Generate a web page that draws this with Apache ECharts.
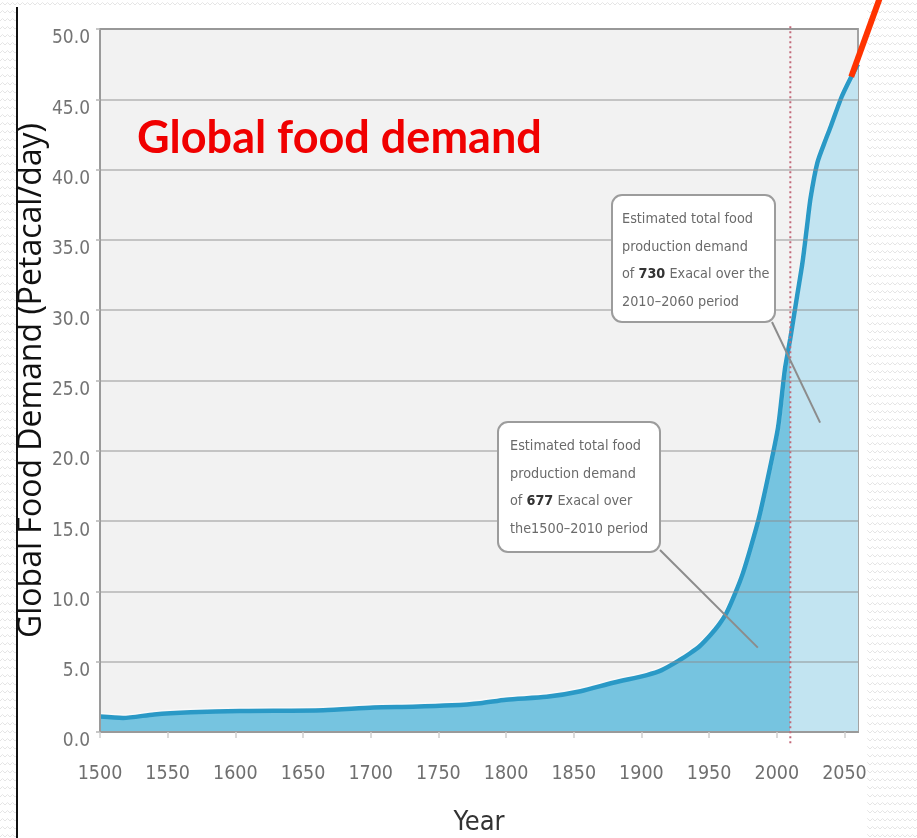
<!DOCTYPE html>
<html>
<head>
<meta charset="utf-8">
<script src="https://cdn.jsdelivr.net/npm/echarts@6/dist/echarts.min.js"></script>
<style>
  html, body { margin: 0; padding: 0; }
  body { width: 917px; height: 838px; overflow: hidden; position: relative; background-color: #fff; }
  #sheet { position: absolute; left: 16px; top: 7px; width: 851px; height: 831px; background: #fff; border-left: 2px solid #111; box-sizing: border-box; }
  #chart { position: absolute; left: 0; top: 0; width: 917px; height: 838px; }
</style>
</head>
<body>
<div id="sheet"></div>
<div id="chart"></div>
<script>
// Global food demand, petacalories per day, 1500-2060
const years = [1500, 1517, 1540, 1567, 1603, 1665, 1702, 1731, 1760, 1781,
               1800, 1830, 1855, 1879, 1904, 1915, 1928, 1936, 1943, 1951,
               1957, 1963, 1969, 1975, 1981, 1987, 1995, 2001, 2006, 2010,
               2015, 2019, 2022, 2025, 2030, 2036, 2040, 2048, 2055, 2060];
const demand = [1.1, 1.0, 1.25, 1.4, 1.5, 1.55, 1.75, 1.8, 1.9, 2.05,
                2.3, 2.5, 2.9, 3.5, 4.05, 4.4, 5.1, 5.6, 6.1, 6.9,
                7.6, 8.5, 9.8, 11.3, 13.2, 15.3, 18.8, 21.7, 25.8, 28.0,
                31.0, 33.4, 35.7, 38.0, 40.5, 42.1, 43.1, 45.2, 46.6, 47.5];

const xRange = { min: 1500, max: 2060, step: 50 };
const yRange = { min: 0, max: 50, step: 5 };
const splitYear = 2010;               // historical / projected boundary

const notes = [
  { text: 'Estimated total food\nproduction demand\nof {b|730} Exacal over the\n2010\u20132060 period', target: [2032, 22.0] },
  { text: 'Estimated total food\nproduction demand\nof {b|677} Exacal over\nthe1500\u20132010 period', target: [1986, 6.0] }
];

// slide background texture
const zig = '<svg xmlns="http://www.w3.org/2000/svg" width="10" height="8"><path d="M0 5 L2.5 2.5 L5 5 L7.5 2.5 L10 5" fill="none" stroke="#e2e2e2" stroke-width="0.9"/></svg>';
document.body.style.backgroundImage = 'url("data:image/svg+xml,' + encodeURIComponent(zig) + '")';

const NARROW = "'Liberation Sans Narrow', 'DejaVu Sans Condensed', 'Liberation Sans', sans-serif";
const splitFrac = (splitYear - xRange.min) / (xRange.max - xRange.min);
const darkFill = '#76c4e0', lightFill = '#c2e4f1';

const chart = echarts.init(document.getElementById('chart'), null, { renderer: 'canvas' });

chart.setOption({
  backgroundColor: 'transparent',
  animation: false,
  grid: {
    left: 100, right: 59, top: 29, bottom: 106,
    outerBoundsMode: 'none', containLabel: false,
    show: true, backgroundColor: '#f2f2f2', borderColor: '#a3a3a3', borderWidth: 2
  },
  xAxis: {
    type: 'value', min: xRange.min, max: xRange.max, interval: xRange.step,
    z: 3,
    name: 'Year', nameLocation: 'middle', nameGap: 77,
    nameTextStyle: { fontFamily: NARROW, fontSize: 27, color: '#333' },
    axisLine: { show: true, lineStyle: { color: '#9a9a9a', width: 2 } },
    axisTick: { show: true, length: 6, lineStyle: { color: '#cfcfcf', width: 1.5 } },
    splitLine: { show: false },
    axisLabel: {
      margin: 32, fontFamily: NARROW, fontSize: 19.5, color: '#6f6f6f',
      showMaxLabel: false,
      formatter: v => (v % xRange.step === 0 ? String(v) : '')
    }
  },
  yAxis: {
    type: 'value', min: yRange.min, max: yRange.max, interval: yRange.step,
    z: 3,
    name: 'Global Food Demand (Petacal/day)', nameLocation: 'middle', nameGap: 52, nameRotate: 90,
    nameMoveOverlap: false,
    nameTextStyle: { fontFamily: "'Open Sans', sans-serif", fontSize: 32, color: '#111' },
    axisLine: { show: true, lineStyle: { color: '#9a9a9a', width: 2 } },
    axisTick: { show: true, length: 4, lineStyle: { color: '#b5b5b5', width: 1.5 } },
    splitLine: { show: true, lineStyle: { color: 'rgba(140,140,140,0.45)', width: 2 } },
    axisLabel: {
      margin: 10, fontFamily: NARROW, fontSize: 19, color: '#747474',
      verticalAlign: 'top', formatter: v => v.toFixed(1)
    }
  },
  series: [
    {
      name: 'Global food demand',
      type: 'line',
      data: years.map((y, i) => [y, demand[i]]),
      smooth: 0.25,
      symbol: 'none',
      z: 2,
      lineStyle: {
        color: '#2a99c6', width: 4.5,
        shadowColor: 'rgba(255,255,255,0.6)', shadowBlur: 1, shadowOffsetY: -1.5
      },
      areaStyle: {
        opacity: 1,
        color: {
          type: 'linear', x: 0, y: 0, x2: 1, y2: 0,
          colorStops: [
            { offset: 0, color: darkFill },
            { offset: splitFrac, color: darkFill },
            { offset: splitFrac, color: lightFill },
            { offset: 1, color: lightFill }
          ]
        }
      }
    },
    {
      name: 'boundary',
      type: 'line',
      data: [[splitYear, -0.8], [splitYear, 50.4]],
      clip: false,
      symbol: 'none',
      z: 4,
      silent: true,
      lineStyle: { color: '#c26a7a', width: 2, type: [2, 3] }
    }
  ]
});

// annotations placed after layout so leaders point at data coordinates
const px = p => chart.convertToPixel({ gridIndex: 0 }, p);
const boxes = [
  { x: 612, y: 195, w: 163, h: 127, tx: 622, ty: 206, from: [772, 322] },
  { x: 498, y: 422, w: 162, h: 130, tx: 510, ty: 433, from: [660, 550] }
];
const graphics = [];
notes.forEach((n, i) => {
  const b = boxes[i];
  const end = px(n.target);
  graphics.push({
    type: 'line', z: 20,
    shape: { x1: b.from[0], y1: b.from[1], x2: end[0], y2: end[1] },
    style: { stroke: '#8c8c8c', lineWidth: 2 }
  });
  graphics.push({
    type: 'rect', z: 21,
    shape: { x: b.x, y: b.y, width: b.w, height: b.h, r: 10 },
    style: { fill: '#ffffff', stroke: '#9c9c9c', lineWidth: 2 }
  });
  graphics.push({
    type: 'text', z: 22, x: b.tx, y: b.ty,
    style: {
      text: n.text,
      fill: '#6a6a6a', fontFamily: NARROW, fontSize: 14.3, lineHeight: 27.5,
      rich: { b: { fontFamily: NARROW, fontSize: 14.3, fontWeight: 'bold', fill: '#333', lineHeight: 27.5 } }
    }
  });
});

const slashStart = px([2055, 46.6]);
graphics.push({
  type: 'line', z: 30,
  shape: { x1: slashStart[0], y1: slashStart[1], x2: slashStart[0] + 29, y2: slashStart[1] - 80 },
  style: { stroke: '#ff3300', lineWidth: 6 }
});

graphics.push({
  type: 'text', z: 30, x: 137, y: 138,
  style: {
    text: 'Global food demand', fill: '#f00000',
    fontFamily: "Lato, 'Open Sans', sans-serif", fontWeight: 'bold', fontSize: 45,
    verticalAlign: 'middle'
  }
});

chart.setOption({ graphic: graphics });
</script>
</body>
</html>
